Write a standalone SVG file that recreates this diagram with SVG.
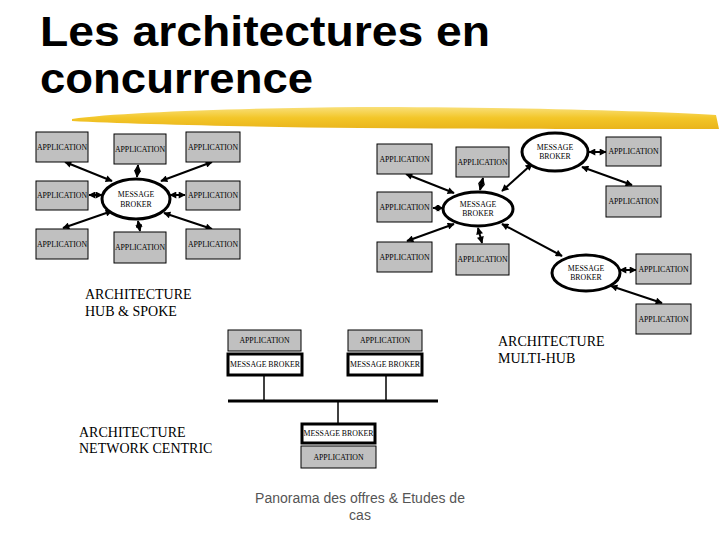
<svg xmlns="http://www.w3.org/2000/svg" width="720" height="540" viewBox="0 0 720 540">
<style>
.app{fill:#c0c0c0;stroke:#000;stroke-width:1}
.t{font-family:"Liberation Serif",serif;font-size:7.8px;text-anchor:middle;fill:#000}
.mb{fill:#fff;stroke:#000;stroke-width:3}
.mbr{fill:#fff;stroke:#000;stroke-width:3}
.lnk{stroke:#000;stroke-width:2;fill:none;marker-start:url(#ah);marker-end:url(#ah)}
.ln{stroke:#000;stroke-width:1.5;fill:none}
.lbl{font-family:"Liberation Serif",serif;font-size:14px;fill:#000}
.title{font-family:"Liberation Sans",Arial,sans-serif;font-weight:bold;font-size:43px;fill:#000}
.foot{font-family:"Liberation Sans",Arial,sans-serif;font-size:14px;fill:#555;text-anchor:middle}
</style>
<defs>
<marker id="ah" viewBox="0 0 10 10" refX="9" refY="5" markerWidth="8" markerHeight="7" markerUnits="userSpaceOnUse" orient="auto-start-reverse"><path d="M0,0 L10,5 L0,10 z" fill="#000"/></marker>
<linearGradient id="brush" x1="0" y1="0" x2="0" y2="1">
<stop offset="0" stop-color="#f9e07a"/>
<stop offset="0.5" stop-color="#f3c628"/>
<stop offset="1" stop-color="#e9b41c"/>
</linearGradient>
</defs>
<rect width="720" height="540" fill="#fff"/>
<g id="title">
<text class="title" x="40" y="46" textLength="450" lengthAdjust="spacingAndGlyphs">Les architectures en</text>
<text class="title" x="40" y="93" textLength="273" lengthAdjust="spacingAndGlyphs">concurrence</text>
<path d="M72,119 C120,112 250,108 360,107 C500,107 650,111 716,115 L719,129 C650,129 500,129 360,128 C250,127 130,124 72,121 Z" fill="url(#brush)"/>
</g>
<g id="connectors">
<line class="lnk" x1="65" y1="162" x2="112" y2="181"/>
<line class="lnk" x1="138" y1="165" x2="137" y2="177"/>
<line class="lnk" x1="212" y1="162" x2="161" y2="181"/>
<line class="lnk" x1="89" y1="195" x2="102" y2="195"/>
<line class="lnk" x1="170" y1="195" x2="185" y2="195"/>
<line class="lnk" x1="63" y1="228" x2="112" y2="211"/>
<line class="lnk" x1="138" y1="221" x2="140" y2="231"/>
<line class="lnk" x1="164" y1="213" x2="212" y2="229"/>
<line class="lnk" x1="406" y1="174" x2="454" y2="193"/>
<line class="lnk" x1="483" y1="178" x2="480" y2="190"/>
<line class="lnk" x1="433" y1="208" x2="443" y2="208"/>
<line class="lnk" x1="407" y1="241" x2="454" y2="224"/>
<line class="lnk" x1="478" y1="228" x2="482" y2="243"/>
<line class="lnk" x1="502" y1="191" x2="532" y2="164"/>
<line class="lnk" x1="502" y1="224" x2="562" y2="256"/>
<line class="lnk" x1="589" y1="152" x2="606" y2="152"/>
<line class="lnk" x1="582" y1="167" x2="632" y2="185"/>
<line class="lnk" x1="620" y1="270" x2="636" y2="270"/>
<line class="lnk" x1="611" y1="286" x2="662" y2="303"/>
<line class="ln" x1="264" y1="375" x2="264" y2="401"/>
<line class="ln" x1="386" y1="375" x2="386" y2="401"/>
<line class="ln" x1="338" y1="401" x2="338" y2="423"/>
<line x1="228" y1="401" x2="438" y2="401" stroke="#000" stroke-width="3"/>
</g>
<g id="hs-app1"><rect class="app" x="36" y="132" width="52" height="30"/><text class="t" x="62" y="150">APPLICATION</text></g>
<g id="hs-app2"><rect class="app" x="114" y="134" width="52" height="30"/><text class="t" x="140" y="152">APPLICATION</text></g>
<g id="hs-app3"><rect class="app" x="186" y="132" width="54" height="30"/><text class="t" x="213" y="150">APPLICATION</text></g>
<g id="hs-app4"><rect class="app" x="36" y="181" width="52" height="29"/><text class="t" x="62" y="198">APPLICATION</text></g>
<g id="hs-app5"><rect class="app" x="186" y="181" width="54" height="29"/><text class="t" x="213" y="198">APPLICATION</text></g>
<g id="hs-app6"><rect class="app" x="36" y="229" width="52" height="30"/><text class="t" x="62" y="247">APPLICATION</text></g>
<g id="hs-app7"><rect class="app" x="114" y="232" width="52" height="31"/><text class="t" x="140" y="250">APPLICATION</text></g>
<g id="hs-app8"><rect class="app" x="186" y="229" width="54" height="30"/><text class="t" x="213" y="247">APPLICATION</text></g>
<g id="hs-broker"><ellipse class="mb" cx="136" cy="199" rx="34" ry="20"/><text class="t" x="136" y="197">MESSAGE</text><text class="t" x="136" y="207">BROKER</text></g>
<g id="hs-label"><text class="lbl" x="85" y="299">ARCHITECTURE</text><text class="lbl" x="85" y="316">HUB &amp; SPOKE</text></g>
<g id="mh-app1"><rect class="app" x="377" y="144" width="55" height="30"/><text class="t" x="404.5" y="162">APPLICATION</text></g>
<g id="mh-app2"><rect class="app" x="456" y="147" width="53" height="30"/><text class="t" x="482.5" y="165">APPLICATION</text></g>
<g id="mh-app3"><rect class="app" x="377" y="192" width="55" height="30"/><text class="t" x="404.5" y="210">APPLICATION</text></g>
<g id="mh-app4"><rect class="app" x="377" y="242" width="55" height="30"/><text class="t" x="404.5" y="260">APPLICATION</text></g>
<g id="mh-app5"><rect class="app" x="456" y="244" width="53" height="31"/><text class="t" x="482.5" y="262">APPLICATION</text></g>
<g id="mh-broker1"><ellipse class="mb" cx="478" cy="209" rx="35" ry="17"/><text class="t" x="478" y="207">MESSAGE</text><text class="t" x="478" y="216">BROKER</text></g>
<g id="mh-broker2"><ellipse class="mb" cx="555" cy="152" rx="33" ry="19"/><text class="t" x="555" y="150">MESSAGE</text><text class="t" x="555" y="159">BROKER</text></g>
<g id="mh-app6"><rect class="app" x="606" y="137" width="55" height="29"/><text class="t" x="633.5" y="154">APPLICATION</text></g>
<g id="mh-app7"><rect class="app" x="606" y="186" width="55" height="31"/><text class="t" x="633.5" y="204">APPLICATION</text></g>
<g id="mh-broker3"><ellipse class="mb" cx="586" cy="273" rx="34" ry="18"/><text class="t" x="586" y="271">MESSAGE</text><text class="t" x="586" y="280">BROKER</text></g>
<g id="mh-app8"><rect class="app" x="636" y="254" width="55" height="30"/><text class="t" x="663.5" y="272">APPLICATION</text></g>
<g id="mh-app9"><rect class="app" x="636" y="304" width="55" height="30"/><text class="t" x="663.5" y="322">APPLICATION</text></g>
<g id="mh-label"><text class="lbl" x="498" y="346">ARCHITECTURE</text><text class="lbl" x="498" y="363">MULTI-HUB</text></g>
<g id="nc-app1"><rect class="app" x="228" y="330" width="73" height="21"/><text class="t" x="264.5" y="343">APPLICATION</text></g>
<g id="nc-mb1"><rect class="mbr" x="228" y="354" width="74" height="21"/><text class="t" x="265" y="367">MESSAGE BROKER</text></g>
<g id="nc-app2"><rect class="app" x="348" y="330" width="74" height="21"/><text class="t" x="385" y="343">APPLICATION</text></g>
<g id="nc-mb2"><rect class="mbr" x="348" y="354" width="74" height="21"/><text class="t" x="385" y="367">MESSAGE BROKER</text></g>
<g id="nc-mb3"><rect class="mbr" x="302" y="424" width="73" height="19"/><text class="t" x="338.5" y="436">MESSAGE BROKER</text></g>
<g id="nc-app3"><rect class="app" x="301" y="446" width="75" height="22"/><text class="t" x="338.5" y="460">APPLICATION</text></g>
<g id="nc-label"><text class="lbl" x="79" y="437">ARCHITECTURE</text><text class="lbl" x="79" y="453">NETWORK CENTRIC</text></g>
<g id="footer"><text class="foot" x="360" y="503">Panorama des offres &amp; Etudes de</text><text class="foot" x="360" y="520">cas</text></g>
</svg>
